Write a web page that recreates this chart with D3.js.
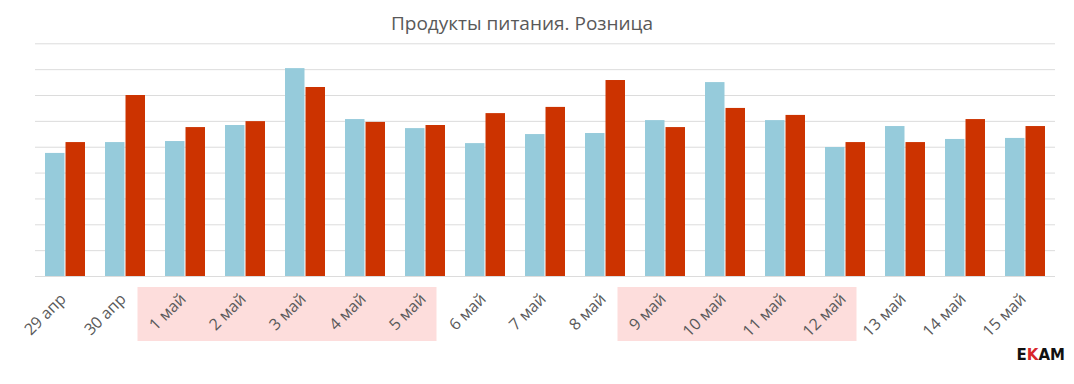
<!DOCTYPE html>
<html lang="ru">
<head>
    <meta charset="utf-8">
    <title>Продукты питания. Розница</title>
    <script src="https://cdn.jsdelivr.net/npm/d3@7"></script>
    <style>
        body, html {
            margin: 0;
            padding: 0;
            background: #fff;
        }
        .title {
            font-family: "Open Sans", sans-serif;
            font-size: 19px;
            fill: #595959;
        }
        .xlabel {
            font-family: "Open Sans", sans-serif;
            font-size: 16px;
            fill: #595959;
        }
        .grid line {
            stroke: #dcdcdc;
            stroke-width: 1;
        }
        .grid path {
            display: none;
        }
    </style>
</head>
<body>
<div id="chart"></div>
<script>
    // Data (units = one gridline step)
    var categories = ["29 апр", "30 апр", "1 май", "2 май", "3 май", "4 май", "5 май", "6 май",
        "7 май", "8 май", "9 май", "10 май", "11 май", "12 май", "13 май", "14 май", "15 май"];
    var seriesBlue = [4.76, 5.18, 5.22, 5.84, 8.04, 6.07, 5.72, 5.14, 5.49, 5.53, 6.03, 7.50, 6.03, 4.99, 5.80, 5.30, 5.34];
    var seriesRed = [5.18, 7.00, 5.76, 5.99, 7.31, 5.96, 5.84, 6.30, 6.54, 7.58, 5.76, 6.50, 6.23, 5.18, 5.18, 6.07, 5.80];
    var gridTicks = [0, 1, 2, 3, 4, 5, 6, 7, 8, 9];
    // holiday periods shaded under the axis labels
    var holidays = [["1 май", "5 май"], ["9 май", "12 май"]];

    var w = 1074;
    var h = 384;
    var plotLeft = 35, plotRight = 1055, plotTop = 43.3, plotBottom = 276;

    var svg = d3.select("#chart")
        .append("svg")
        .attr("width", w)
        .attr("height", h);

    var x0 = d3.scaleBand()
        .domain(categories)
        .range([plotLeft, plotRight])
        .paddingInner(1 / 3)
        .paddingOuter(1 / 6);

    var x1 = d3.scaleBand()
        .domain(["blue", "red"])
        .range([0, x0.bandwidth()])
        .paddingInner(0.05);

    var y = d3.scaleLinear()
        .domain([0, 9])
        .range([plotBottom, plotTop]);

    var center = function (d) { return x0(d) + x0.bandwidth() / 2; };

    // Holiday backgrounds
    svg.selectAll("rect.holiday")
        .data(holidays)
        .enter()
        .append("rect")
        .attr("class", "holiday")
        .attr("x", function (d) { return center(d[0]) - 47.5; })
        .attr("y", plotBottom + 11)
        .attr("width", function (d) {
            return center(d[1]) - center(d[0]) + 59;
        })
        .attr("height", 54)
        .attr("fill", "#fddddc");

    // Gridlines
    svg.append("g")
        .attr("class", "grid")
        .attr("transform", "translate(" + plotLeft + ",0)")
        .call(d3.axisLeft(y).tickValues(gridTicks).tickSize(-(plotRight - plotLeft)).tickFormat(""));

    // Title
    svg.append("text")
        .attr("class", "title")
        .attr("x", 522)
        .attr("y", 30)
        .attr("text-anchor", "middle")
        .text("Продукты питания. Розница");

    // Bars
    var groups = svg.selectAll("g.cat")
        .data(categories)
        .enter()
        .append("g")
        .attr("class", "cat")
        .attr("transform", function (d) { return "translate(" + x0(d) + ",0)"; });

    groups.append("rect")
        .attr("x", x1("blue"))
        .attr("y", function (d, i) { return y(seriesBlue[i]); })
        .attr("width", x1.bandwidth())
        .attr("height", function (d, i) { return y(0) - y(seriesBlue[i]); })
        .attr("fill", "#96cbdb");

    groups.append("rect")
        .attr("x", x1("red"))
        .attr("y", function (d, i) { return y(seriesRed[i]); })
        .attr("width", x1.bandwidth())
        .attr("height", function (d, i) { return y(0) - y(seriesRed[i]); })
        .attr("fill", "#cc3300");

    // X labels (rotated)
    svg.selectAll("text.xlabel")
        .data(categories)
        .enter()
        .append("text")
        .attr("class", "xlabel")
        .attr("text-anchor", "end")
        .attr("transform", function (d) {
            return "translate(" + (center(d) + 2) + "," + (plotBottom + 24) + ") rotate(-45)";
        })
        .text(function (d) { return d; });

    // Logo
    var logo = svg.append("text")
        .attr("x", 1065)
        .attr("y", 360)
        .attr("text-anchor", "end")
        .attr("font-family", "DejaVu Sans, sans-serif")
        .attr("font-weight", "bold")
        .attr("font-size", 15)
        .attr("fill", "#111");
    logo.append("tspan").text("E");
    logo.append("tspan").attr("fill", "#d8262b").text("K");
    logo.append("tspan").text("AM");
</script>
</body>
</html>
